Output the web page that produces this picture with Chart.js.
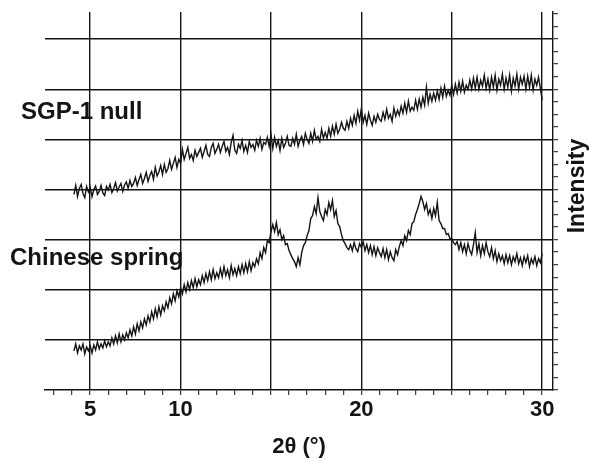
<!DOCTYPE html>
<html>
<head>
<meta charset="utf-8">
<script src="https://cdn.jsdelivr.net/npm/chart.js@4.4.1/dist/chart.umd.min.js"></script>
<style>
  html, body { margin: 0; padding: 0; background: #fff; }
  #wrap { width: 589px; height: 461px; }
</style>
</head>
<body>
<div id="wrap"><canvas id="c" width="589" height="461"></canvas></div>
<script>
// 2θ sampling: first angle and step (degrees)
const thetaStart = 4.1;
const thetaStep = 0.1;

// x-axis labelled ticks
const xTickLabels = [5, 10, 20, 30];
const xMajorEvery = 5;

// Series names
const seriesNames = ['SGP-1 null', 'Chinese spring'];

// SGP-1 null trace (upper), intensity in grid units, 4.1° .. 30.0°
const sgp1Null = [
  3.90, 4.08, 3.86, 4.02, 4.10, 3.92, 3.84, 4.06, 3.95, 4.04,
  3.86, 4.00, 4.07, 3.90, 3.96, 4.08, 3.93, 3.88, 4.06, 3.99,
  4.10, 3.94, 4.02, 4.14, 3.97, 4.05, 4.12, 3.96, 4.09, 4.15,
  4.02, 4.18, 4.06, 4.12, 4.24, 4.08, 4.20, 4.30, 4.12, 4.22,
  4.34, 4.16, 4.28, 4.36, 4.20, 4.44, 4.27, 4.35, 4.48, 4.30,
  4.50, 4.34, 4.42, 4.58, 4.40, 4.52, 4.64, 4.44, 4.60, 4.52,
  4.80, 4.60, 4.72, 4.84, 4.62, 4.70, 4.58, 4.78, 4.66, 4.74,
  4.82, 4.64, 4.76, 4.88, 4.70, 4.66, 4.84, 4.92, 4.72, 4.80,
  4.90, 4.74, 4.86, 4.96, 4.76, 4.84, 4.70, 4.94, 5.08, 4.78,
  4.72, 4.90, 4.82, 4.98, 4.76, 4.88, 4.74, 4.96, 4.84, 4.90,
  4.78, 4.98, 4.86, 5.02, 4.80, 4.94, 4.90, 5.04, 4.86, 5.10,
  4.82, 5.04, 4.86, 4.98, 4.78, 5.02, 4.84, 4.92, 5.06, 4.88,
  4.86, 5.02, 4.90, 5.10, 4.86, 4.98, 5.06, 4.90, 5.12, 5.00,
  4.92, 5.12, 4.96, 5.18, 5.00, 5.06, 4.96, 5.20, 5.02, 5.14,
  5.02, 5.22, 5.06, 5.26, 5.10, 5.30, 5.12, 5.20, 5.34, 5.22,
  5.18, 5.36, 5.22, 5.42, 5.28, 5.48, 5.32, 5.56, 5.38, 5.62,
  5.34, 5.48, 5.30, 5.52, 5.38, 5.28, 5.46, 5.34, 5.50, 5.40,
  5.36, 5.54, 5.40, 5.60, 5.42, 5.50, 5.36, 5.62, 5.46, 5.58,
  5.48, 5.66, 5.52, 5.72, 5.54, 5.76, 5.56, 5.64, 5.58, 5.78,
  5.60, 5.80, 5.64, 5.84, 5.68, 6.04, 5.72, 5.90, 5.76, 5.92,
  5.78, 5.96, 5.80, 6.02, 5.84, 6.06, 5.86, 5.98, 5.88, 6.08,
  5.90, 6.10, 5.92, 6.14, 5.96, 6.16, 5.94, 6.08, 6.00, 6.18,
  6.00, 6.22, 6.02, 6.24, 6.00, 6.18, 6.06, 6.28, 6.02, 6.20,
  5.98, 6.24, 6.04, 6.28, 5.98, 6.20, 6.08, 6.30, 6.00, 6.22,
  6.04, 6.28, 5.96, 6.22, 6.06, 6.30, 6.00, 6.24, 6.10, 6.26,
  6.00, 6.26, 6.04, 6.28, 5.98, 6.20, 6.08, 6.24, 6.02, 5.78
];

// Chinese spring trace (lower), intensity in grid units, 4.1° .. 30.0°
const chineseSpring = [
  0.78, 0.92, 0.74, 0.88, 0.80, 0.92, 0.72, 0.86, 0.78, 0.88,
  0.74, 0.90, 0.80, 0.96, 0.82, 0.92, 0.84, 0.98, 0.86, 0.96,
  0.88, 1.04, 0.92, 1.08, 0.94, 1.12, 0.96, 1.10, 1.00, 1.14,
  1.04, 1.20, 1.08, 1.26, 1.12, 1.32, 1.18, 1.36, 1.24, 1.42,
  1.30, 1.48, 1.36, 1.56, 1.42, 1.62, 1.46, 1.66, 1.50, 1.68,
  1.58, 1.76, 1.64, 1.84, 1.72, 1.92, 1.78, 1.98, 1.86, 2.04,
  1.92, 2.10, 1.96, 2.14, 2.00, 2.18, 2.04, 2.22, 2.06, 2.20,
  2.10, 2.28, 2.14, 2.32, 2.18, 2.36, 2.20, 2.40, 2.22, 2.34,
  2.24, 2.42, 2.26, 2.46, 2.28, 2.40, 2.24, 2.48, 2.30, 2.42,
  2.28, 2.46, 2.32, 2.50, 2.34, 2.52, 2.36, 2.56, 2.38, 2.54,
  2.46, 2.62, 2.52, 2.74, 2.62, 2.84, 2.74, 2.98, 2.94, 3.16,
  3.30, 3.16, 3.34, 3.10, 3.20, 3.00, 3.08, 2.90, 2.92, 2.78,
  2.70, 2.62, 2.56, 2.46, 2.64, 2.50, 2.74, 2.88, 2.94, 3.08,
  3.18, 3.42, 3.48, 3.66, 3.52, 3.84, 3.56, 3.46, 3.38, 3.60,
  3.50, 3.74, 3.60, 3.78, 3.46, 3.58, 3.32, 3.26, 3.10, 2.98,
  2.92, 2.84, 2.80, 2.90, 2.78, 2.94, 2.82, 2.76, 2.92, 2.84,
  2.96, 2.78, 2.90, 2.74, 2.88, 2.70, 2.86, 2.68, 2.84, 2.74,
  2.66, 2.82, 2.64, 2.80, 2.60, 2.76, 2.64, 2.58, 2.80, 2.70,
  2.86, 2.98, 2.88, 3.08, 2.98, 3.18, 3.10, 3.32, 3.36, 3.50,
  3.60, 3.72, 3.86, 3.76, 3.60, 3.72, 3.50, 3.60, 3.42, 3.62,
  3.48, 3.74, 3.38, 3.32, 3.22, 3.22, 3.10, 3.12, 3.02, 3.02,
  2.94, 2.90, 2.96, 2.80, 2.94, 2.76, 2.90, 2.72, 2.92, 2.78,
  2.70, 2.90, 3.14, 2.74, 2.92, 2.68, 2.88, 2.72, 2.94, 2.76,
  2.66, 2.84, 2.62, 2.78, 2.56, 2.72, 2.58, 2.68, 2.52, 2.70,
  2.54, 2.68, 2.50, 2.66, 2.56, 2.72, 2.52, 2.64, 2.48, 2.66,
  2.54, 2.68, 2.46, 2.62, 2.52, 2.66, 2.48, 2.62, 2.54, 2.72
];

const INK = '#141414';
const FONT = '"Liberation Sans", Arial, Helvetica, sans-serif';

function toPoints(values) {
  return values.map((v, i) => ({ x: +(thetaStart + i * thetaStep).toFixed(2), y: v }));
}

const textPlugin = {
  id: 'freeText',
  afterDraw(chart) {
    const ctx = chart.ctx;
    ctx.save();
    ctx.fillStyle = INK;
    ctx.font = 'bold 24px ' + FONT;
    ctx.textAlign = 'left';
    ctx.textBaseline = 'alphabetic';
    ctx.fillText(seriesNames[0], 21, 119);
    ctx.fillText(seriesNames[1], 10, 265);
    ctx.font = 'bold 23px ' + FONT;
    ctx.translate(578, 186);
    ctx.rotate(-Math.PI / 2);
    ctx.textAlign = 'center';
    ctx.textBaseline = 'middle';
    ctx.fillText('Intensity', 0, 0);
    ctx.restore();
  }
};

const bgPlugin = {
  id: 'bg',
  beforeDraw(chart) {
    const ctx = chart.ctx;
    ctx.save();
    ctx.fillStyle = '#fff';
    ctx.fillRect(0, 0, chart.width, chart.height);
    ctx.restore();
  }
};

new Chart(document.getElementById('c'), {
  type: 'line',
  data: {
    datasets: [
      { label: seriesNames[0], data: toPoints(sgp1Null), borderColor: INK, borderWidth: 1.4, pointRadius: 0, tension: 0, fill: false },
      { label: seriesNames[1], data: toPoints(chineseSpring), borderColor: INK, borderWidth: 1.4, pointRadius: 0, tension: 0, fill: false }
    ]
  },
  options: {
    responsive: false,
    animation: false,
    events: [],
    layout: { padding: { left: 45, top: 12, right: 0, bottom: 0 } },
    plugins: { legend: { display: false }, tooltip: { enabled: false } },
    scales: {
      x: {
        type: 'linear',
        min: 2.5,
        max: 30.6,
        afterBuildTicks(scale) {
          const t = [];
          for (let v = 3; v <= 30; v++) t.push({ value: v });
          scale.ticks = t;
        },
        afterFit(scale) { scale.height = 71; },
        ticks: {
          autoSkip: false,
          maxRotation: 0,
          padding: 2,
          color: INK,
          font: { family: FONT, size: 22, weight: 'bold' },
          callback: (v) => xTickLabels.includes(v) ? String(v) : ''
        },
        grid: {
          color: (c) => (c.tick && c.tick.value % xMajorEvery === 0) ? INK : 'rgba(0,0,0,0)',
          tickColor: INK,
          lineWidth: 1.4,
          tickWidth: 1,
          tickLength: 5
        },
        border: { display: true, color: INK, width: 1.4 },
        title: {
          display: true,
          text: '2θ (°)',
          color: INK,
          font: { family: FONT, size: 22, weight: 'bold' },
          padding: { top: 0, bottom: 1 }
        }
      },
      y: {
        position: 'right',
        min: 0,
        max: 7.54,
        afterBuildTicks(scale) {
          const t = [];
          for (let k = 0; k <= 30; k++) t.push({ value: k / 4 });
          scale.ticks = t;
        },
        afterFit(scale) { scale.width = 36; },
        ticks: { display: false },
        grid: {
          color: (c) => (c.tick && Number.isInteger(c.tick.value) && c.tick.value > 0) ? INK : 'rgba(0,0,0,0)',
          tickColor: INK,
          lineWidth: 1.4,
          tickWidth: 1,
          tickLength: 5
        },
        border: { display: true, color: INK, width: 1.4 }
      }
    }
  },
  plugins: [bgPlugin, textPlugin]
});
</script>
</body>
</html>
